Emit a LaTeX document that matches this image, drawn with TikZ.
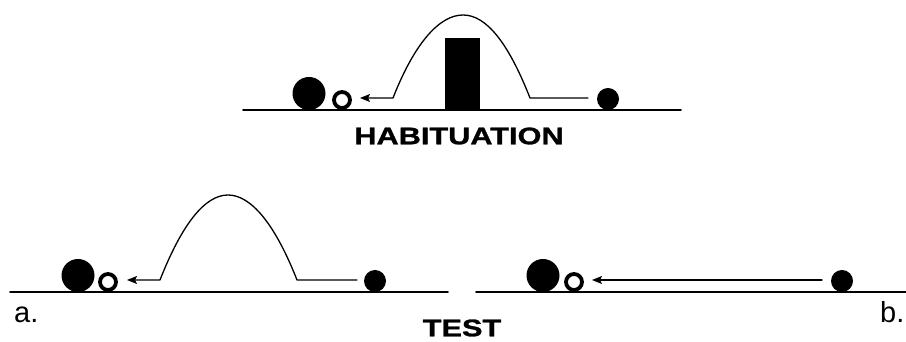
\documentclass[tikz,border=0pt]{standalone}
\usepackage{fontspec}
\usetikzlibrary{arrows.meta, calc, positioning}
\newfontfamily\lblfont[FakeStretch=1.28, BoldFeatures={FakeBold=1.2}]{Liberation Sans}
\newfontfamily\tagfont{Liberation Sans}
\tikzset{
  >={Stealth[length=10pt, width=8pt, inset=2pt]},
  every picture/.style={line cap=round, line join=round},
  floor/.style={line width=1.8pt},
  bigball/.style={circle, fill=black, minimum size=33pt, inner sep=0pt},
  smallball/.style={circle, fill=black, minimum size=22pt, inner sep=0pt},
  openball/.style={circle, draw=black, fill=white, line width=3.8pt, minimum size=16pt, inner sep=0pt},
  barrier/.style={fill=black, minimum width=35pt, minimum height=72pt, inner sep=0pt, anchor=south},
  path/.style={->, line width=1.3pt},
  title/.style={font=\lblfont\bfseries\fontsize{24}{28}\selectfont, inner sep=0pt},
  tag/.style={font=\tagfont\fontsize{29}{32}\selectfont, inner sep=0pt, anchor=base west},
}

\begin{document}
\begin{tikzpicture}[x=1pt, y=1pt]
  \useasboundingbox (0,0) rectangle (906,342);
  % habituation
  \draw[floor] (243,232) coordinate (hl) -- (681,232) coordinate (hr);
  \node[bigball] (hbig) at (309,248.5) {};
  \node[openball] (hopen) at (342,242) {};
  \node[smallball] (hfill) at (608,243) {};
  \node[barrier] (hbar) at (462.5,232) {};
  \coordinate (hs) at (588,244);
  \coordinate (hc1) at (530,244);
  \coordinate (hpk) at (463,327);
  \coordinate (hc2) at (393,244);
  \coordinate (ht) at (360,244);
  \draw[path] (hs) -- (hc1) .. controls (508,300) and (486,327) .. (hpk)
    .. controls (440,327) and (415,300) .. (hc2) -- (ht);
  \node[title] (hab) at (459,206) {HABITUATION};
  % test a.
  \draw[floor] (10,50) coordinate (al) -- (448,50) coordinate (ar);
  \node[bigball] (abig) at (78,66.5) {};
  \node[openball] (aopen) at (108,60) {};
  \node[smallball] (afill) at (375,61) {};
  \coordinate (as) at (357,62);
  \coordinate (ac1) at (297,62);
  \coordinate (apk) at (228,147);
  \coordinate (ac2) at (160,62);
  \coordinate (at) at (127,62);
  \draw[path] (as) -- (ac1) .. controls (275,118) and (251,147) .. (apk)
    .. controls (205,147) and (182,118) .. (ac2) -- (at);
  \node[tag] (alab) at (14,19) {a.};
  % test b.
  \draw[floor] (476,50) coordinate (bl) -- (906,50) coordinate (br);
  \node[bigball] (bbig) at (543,66.5) {};
  \node[openball] (bopen) at (574,60) {};
  \node[smallball] (bfill) at (842,61) {};
  \coordinate (bs) at (822,62);
  \coordinate (bt) at (592,62);
  \draw[path] (bs) -- (bt);
  \node[tag] (blab) at (880,19) {b.};
  \node[title] (test) at (462,14) {TEST};
\end{tikzpicture}
\end{document}
